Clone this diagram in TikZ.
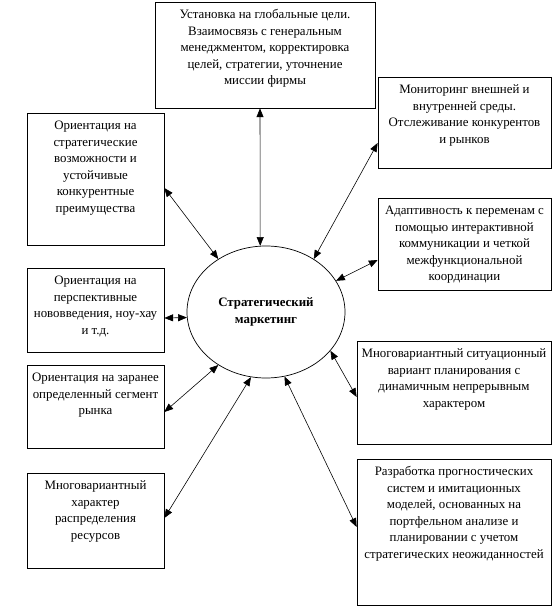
\documentclass[tikz,border=0pt]{standalone}
\usepackage{fontspec}
\setmainfont{Liberation Serif}
\usetikzlibrary{shapes.geometric,arrows.meta}

% text block inside a box: width, height, lines
\newcommand{\boxtxt}[3]{\parbox[c][#2][t]{#1}{\centering\rule{0pt}{14pt}#3}}

\tikzset{
  blk/.style={draw,line width=0.6pt,inner sep=0pt,font=\fontsize{11}{14.2}\selectfont},
  link/.style={line width=0.5pt,{Triangle[length=7.5pt,width=6pt]}-{Triangle[length=7.5pt,width=6pt]}}
}

\begin{document}
\begin{tikzpicture}[x=0.03cm,y=-0.03cm]
  \useasboundingbox (0,0) rectangle (557,610);

  % центр
  \node[ellipse,draw,line width=0.6pt,inner sep=0pt,minimum width=4.74cm,minimum height=3.96cm,
        align=center,font=\fontsize{11}{14.2}\selectfont\bfseries] (m) at (266,312)
        {Стратегический\\маркетинг};

  % верх
  \node[blk] (top) at (265,55) {\boxtxt{6.6cm}{3.18cm}{Установка на глобальные цели.\\
    Взаимосвязь с генеральным\\ менеджментом, корректировка\\ целей, стратегии, уточнение\\ миссии фирмы}};

  % справа
  \node[blk] (mon) at (464.5,122.5) {\boxtxt{5.19cm}{2.73cm}{Мониторинг внешней и\\
    внутренней среды.\\ Отслеживание конкурентов\\ и рынков}};
  \node[blk] (adapt) at (464.5,244) {\boxtxt{5.19cm}{2.76cm}{Адаптивность к переменам с\\
    помощью интерактивной\\ коммуникации и четкой\\ межфункциональной\\ координации}};
  \node[blk] (sit) at (454,392.5) {\boxtxt{5.82cm}{3.09cm}{Многовариантный ситуационный\\
    вариант планирования с\\ динамичным непрерывным\\ характером}};
  \node[blk] (razr) at (454,532) {\boxtxt{5.82cm}{4.38cm}{Разработка прогностических\\
    систем и имитационных\\ моделей, основанных на\\ портфельном анализе и\\
    планировании с учетом\\ стратегических неожиданностей}};

  % слева
  \node[blk] (strat) at (95.5,179) {\boxtxt{4.11cm}{3.96cm}{Ориентация на\\ стратегические\\
    возможности и\\ устойчивые\\ конкурентные\\ преимущества}};
  \node[blk] (nov) at (95.5,310) {\boxtxt{4.11cm}{2.52cm}{Ориентация на\\ перспективные\\
    нововведения, ноу-хау\\ и т.д.}};
  \node[blk] (seg) at (95.5,406.5) {\boxtxt{4.11cm}{2.49cm}{Ориентация на заранее\\
    определенный сегмент\\ рынка}};
  \node[blk] (res) at (95.5,520.5) {\boxtxt{4.11cm}{2.85cm}{Многовариантный\\ характер\\
    распределения\\ ресурсов}};

  % связи
  \draw[link] ([xshift=-0.15cm]top.south) -- (m.95);
  \foreach \b/\e/\s/\a in {strat/east/-0.27/132, nov/east/-0.24/184, seg/east/-0.165/228,
                          res/east/0.075/257, mon/west/-0.615/48.6, adapt/west/-0.48/24,
                          sit/west/-0.135/329, razr/west/0.15/286}{
    \draw[link] ([yshift=\s cm]\b.\e) -- (m.\a);
  }
\end{tikzpicture}
\end{document}
